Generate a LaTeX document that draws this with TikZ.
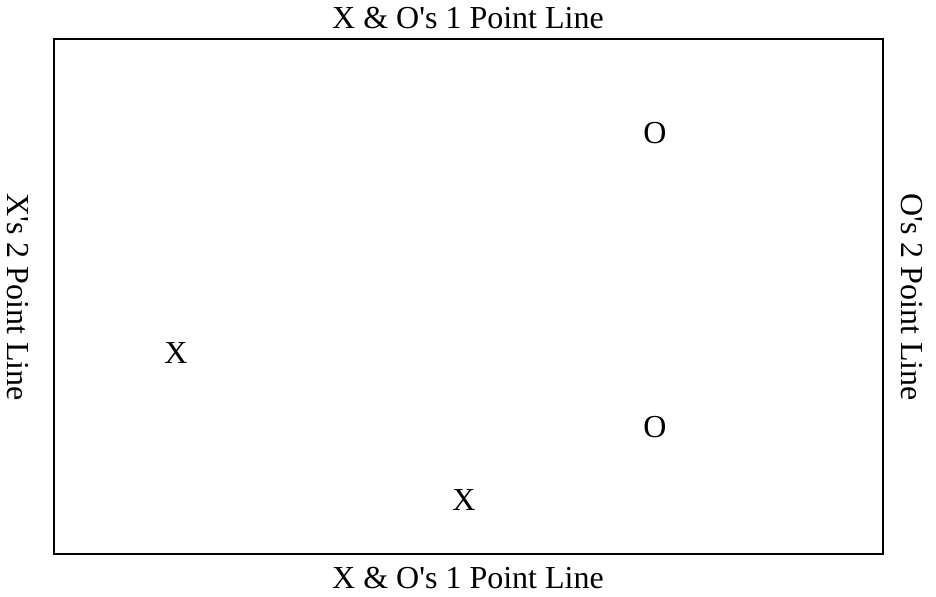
\documentclass[tikz,border=0pt]{standalone}
\usepackage{fontspec}
\newfontfamily\ser{Liberation Serif}
\begin{document}
\begin{tikzpicture}[x=0.5pt,y=-0.5pt,
  lbl/.style={font=\ser\fontsize{16}{19}\selectfont, inner sep=0pt, anchor=center},
  field/.style={draw=black, line width=1pt}]
\useasboundingbox (0,0) rectangle (936,597);
\draw[field] (54,39) rectangle (882.5,554);
\node[lbl] (top) at (468,18) {X \& O's 1 Point Line};
\node[lbl] (bot) at (468,578) {X \& O's 1 Point Line};
\node[lbl, rotate=-90] (left) at (18,297) {X's 2 Point Line};
\node[lbl, rotate=-90] (right) at (912,297) {O's 2 Point Line};
\node[lbl] (o1) at (655,133) {O};
\node[lbl] (x1) at (176,353) {X};
\node[lbl] (o2) at (655,427) {O};
\node[lbl] (x2) at (464,500) {X};
\end{tikzpicture}
\end{document}
